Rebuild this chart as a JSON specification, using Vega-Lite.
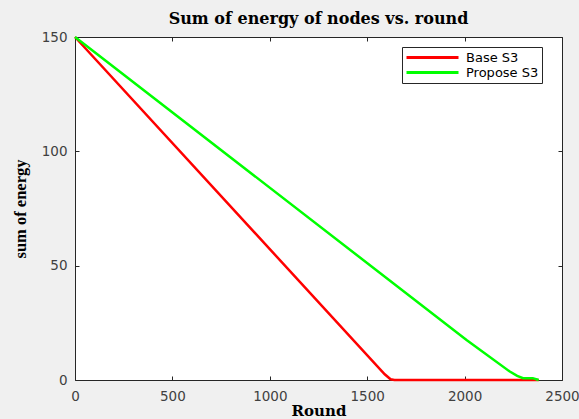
{
  "$schema": "https://vega.github.io/schema/vega-lite/v6.json",
  "autosize": "none",
  "width": 487,
  "height": 343,
  "padding": {"left": 75, "top": 37, "right": 17, "bottom": 39},
  "background": "#f0f0f0",
  "title": {
    "text": "Sum of energy of nodes vs. round",
    "font": "DejaVu Serif",
    "fontSize": 16,
    "fontWeight": "bold",
    "color": "#000000",
    "anchor": "middle",
    "frame": "group",
    "offset": 3
  },
  "config": {
    "view": {"fill": "#ffffff", "stroke": "#262626", "strokeWidth": 1},
    "axis": {
      "grid": false,
      "domain": false,
      "tickColor": "#262626",
      "tickSize": -4,
      "labelFont": "DejaVu Sans",
      "labelFontSize": 13.5,
      "labelColor": "#404040",
      "titleFont": "Liberation Serif",
      "titleFontWeight": "bold",
      "titleColor": "#000000"
    }
  },
  "data": {
    "values": [
      {"series": "Base S3", "round": 0, "energy": 150},
      {"series": "Base S3", "round": 1590, "energy": 2.5},
      {"series": "Base S3", "round": 1620, "energy": 0.3},
      {"series": "Base S3", "round": 1640, "energy": 0},
      {"series": "Base S3", "round": 2380, "energy": 0},
      {"series": "Propose S3", "round": 0, "energy": 150},
      {"series": "Propose S3", "round": 2010, "energy": 17.5},
      {"series": "Propose S3", "round": 2230, "energy": 3.8},
      {"series": "Propose S3", "round": 2270, "energy": 1.8},
      {"series": "Propose S3", "round": 2300, "energy": 0.8},
      {"series": "Propose S3", "round": 2350, "energy": 0.8},
      {"series": "Propose S3", "round": 2380, "energy": 0}
    ]
  },
  "resolve": {"axis": {"x": "independent", "y": "independent"}},
  "layer": [
    {
      "mark": {"type": "line", "strokeWidth": 2.5, "clip": false},
      "encoding": {
        "x": {
          "field": "round", "type": "quantitative",
          "scale": {"domain": [0, 2500], "nice": false},
          "axis": {"orient": "bottom", "values": [0, 500, 1000, 1500, 2000, 2500], "format": "d", "title": "Round", "titleFont": "DejaVu Serif", "titleFontSize": 15, "labelPadding": 13, "titlePadding": 1, "labelFlush": false}
        },
        "y": {
          "field": "energy", "type": "quantitative",
          "scale": {"domain": [0, 150], "nice": false},
          "axis": {"orient": "left", "values": [0, 50, 100, 150], "format": "d", "title": "sum of energy", "titleFontSize": 16.5, "labelPadding": 12, "titlePadding": 13}
        },
        "color": {
          "field": "series", "type": "nominal",
          "scale": {"domain": ["Base S3", "Propose S3"], "range": ["#ff0000", "#00ff00"]},
          "legend": {
            "title": null,
            "orient": "none",
            "legendX": 327,
            "legendY": 10,
            "symbolType": "stroke",
            "symbolSize": 2704,
            "symbolStrokeWidth": 3,
            "clipHeight": 15,
            "rowPadding": 0,
            "padding": 3,
            "labelOffset": 6,
            "labelFont": "DejaVu Sans",
            "labelFontSize": 13,
            "labelColor": "#000000",
            "strokeColor": "#262626",
            "fillColor": "#ffffff"
          }
        }
      }
    },
    {
      "mark": {"type": "line", "strokeOpacity": 0},
      "encoding": {
        "x": {
          "field": "round", "type": "quantitative",
          "axis": {"orient": "top", "values": [0, 500, 1000, 1500, 2000, 2500], "labels": false, "title": null}
        },
        "y": {
          "field": "energy", "type": "quantitative",
          "axis": {"orient": "right", "values": [0, 50, 100, 150], "labels": false, "title": null}
        },
        "detail": {"field": "series"}
      }
    }
  ]
}
